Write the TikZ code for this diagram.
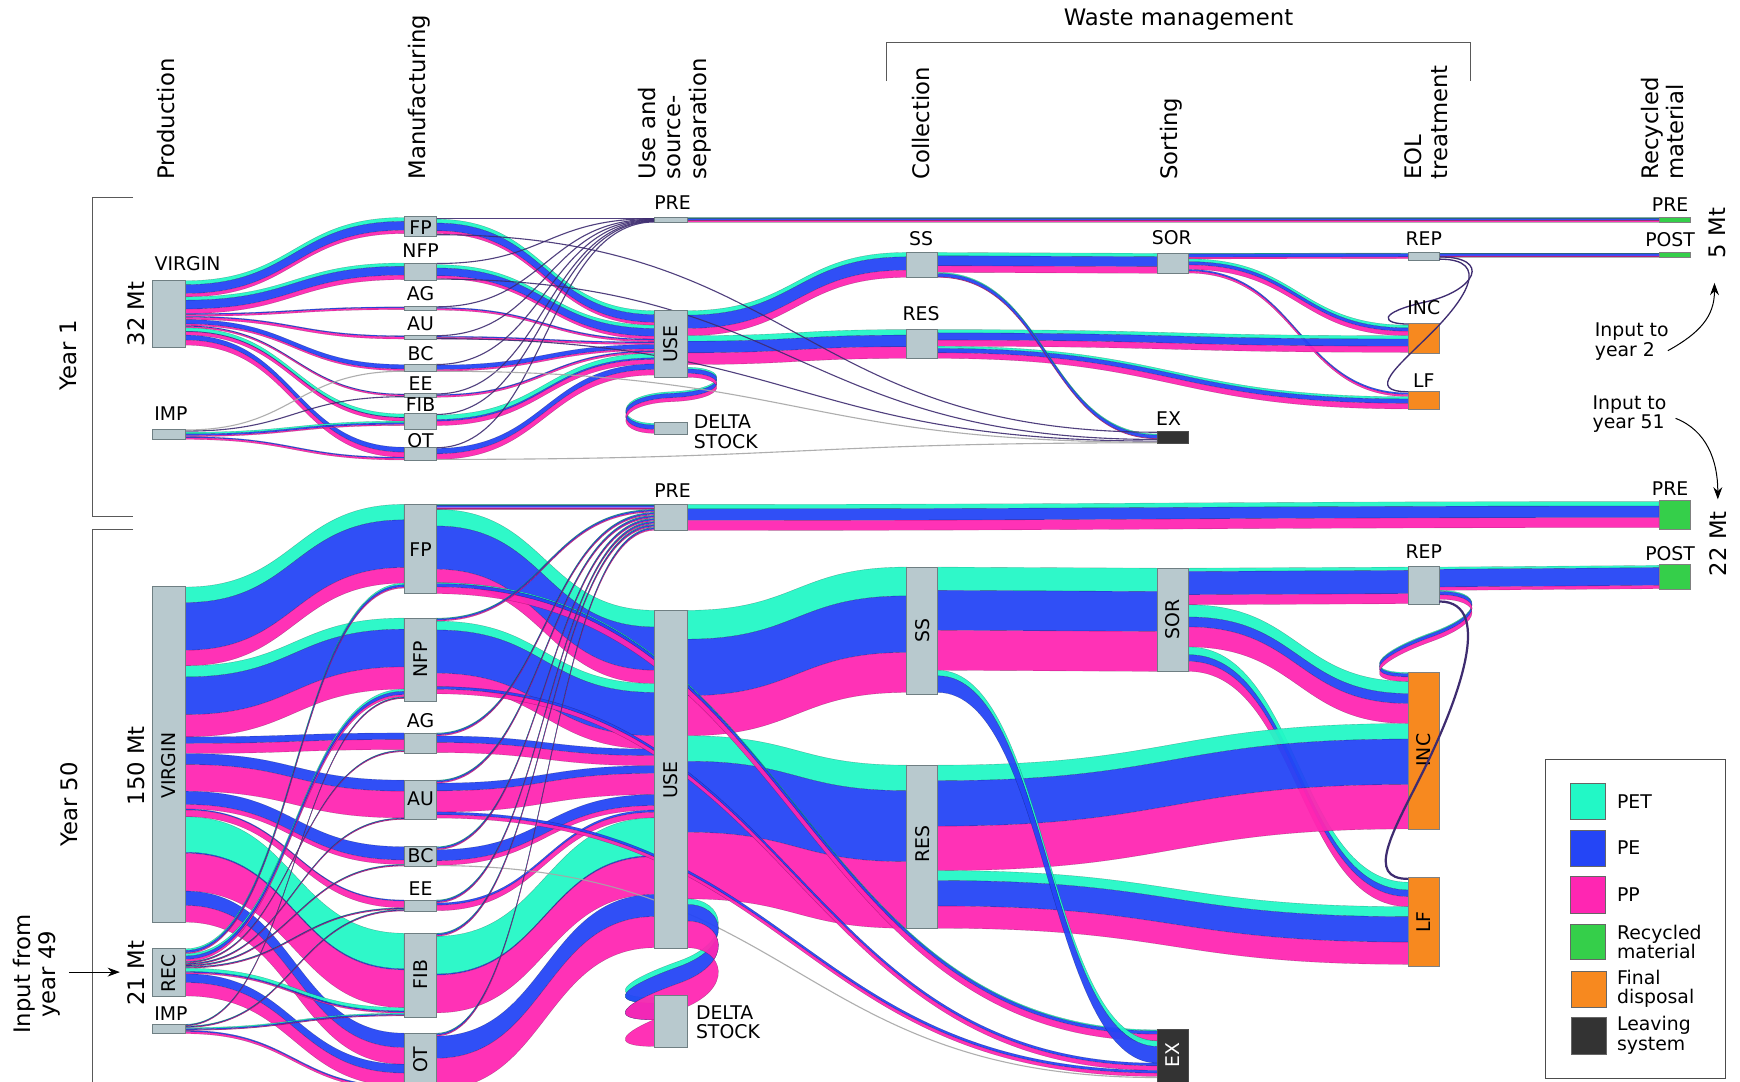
\documentclass[tikz,border=0pt]{standalone}
\usepackage{fontspec}
\setmainfont{DejaVu Sans}
\usetikzlibrary{arrows.meta,calc}
\definecolor{pet}{HTML}{22F8C6}
\definecolor{pe}{HTML}{2445F6}
\definecolor{pp}{HTML}{FF26B2}
\definecolor{boxg}{HTML}{B8C9CE}
\definecolor{boxe}{HTML}{6F7F83}
\definecolor{recg}{HTML}{35CF4A}
\definecolor{fino}{HTML}{F7891F}
\definecolor{leav}{HTML}{333333}
\definecolor{flc}{HTML}{3E2C70}
% one coloured band of a ribbon
\newcommand\flowband[6]{%
 \pgfmathsetmacro\fbXm{(#1+#3)/2}%
 \pgfmathsetmacro\fbYb{#2+#5}%
 \pgfmathsetmacro\fbYc{#4+#5}%
 \path[fill=#6,fill opacity=0.94,draw=black,draw opacity=0.3,line width=0.3pt] (#1,#2) .. controls (\fbXm,#2) and (\fbXm,#4) .. (#3,#4) -- (#3,\fbYc) .. controls (\fbXm,\fbYc) and (\fbXm,\fbYb) .. (#1,\fbYb) -- cycle;}
% ribbon PET/PE/PP: x1 y1 x2 y2 a b c
\newcommand\rib[7]{%
 \ifdim #5pt>0pt \flowband{#1}{#2}{#3}{#4}{#5}{pet}\fi
 \pgfmathsetmacro\rbYa{#2+#5}\pgfmathsetmacro\rbYb{#4+#5}%
 \ifdim #6pt>0pt \flowband{#1}{\rbYa}{#3}{\rbYb}{#6}{pe}\fi
 \pgfmathsetmacro\rbYc{#2+#5+#6}\pgfmathsetmacro\rbYd{#4+#5+#6}%
 \ifdim #7pt>0pt \flowband{#1}{\rbYc}{#3}{\rbYd}{#7}{pp}\fi}
% thin line flow
\newcommand\fline[5][flc]{\draw[#1,line width=1pt,opacity=0.9] (#2,#3) .. controls ({(#2+#4)/2},#3) and ({(#2+#4)/2},#5) .. (#4,#5);}
% S-shaped loop band with vertical offsets along a two-segment base curve
\newcommand\setS[7]{\def\pA{#1}\def\pB{#2}\def\pC{#3}\def\pD{#4}\def\pE{#5}\def\pF{#6}\def\pG{#7}}
\newcommand\sband[3]{\path[fill=#3,fill opacity=0.94,draw=black,draw opacity=0.3,line width=0.3pt] ($(\pA)+(0,#1)$) .. controls ($(\pB)+(0,#1)$) and ($(\pC)+(0,#1)$) .. ($(\pD)+(0,#1)$) .. controls ($(\pE)+(0,#1)$) and ($(\pF)+(0,#1)$) .. ($(\pG)+(0,#1)$) -- ($(\pG)+(0,#2)$) .. controls ($(\pF)+(0,#2)$) and ($(\pE)+(0,#2)$) .. ($(\pD)+(0,#2)$) .. controls ($(\pC)+(0,#2)$) and ($(\pB)+(0,#2)$) .. ($(\pA)+(0,#2)$) -- cycle;}
% box node: name x1 y1 x2 y2 style
\newcommand\bx[6]{%
 \pgfmathsetmacro\bxW{#4-#2}\pgfmathsetmacro\bxH{#5-#3}%
 \pgfmathsetmacro\bxX{(#2+#4)/2}\pgfmathsetmacro\bxY{(#3+#5)/2}%
 \node[#6,minimum width=\bxW pt,minimum height=\bxH pt] (#1) at (\bxX,\bxY) {};}
\begin{document}
\begin{tikzpicture}[x=1pt,y=-1pt,
 gbox/.style={rectangle,draw=boxe,fill=boxg,line width=0.7pt,inner sep=0pt,outer sep=0pt},
 gnode/.style={gbox,fill=recg,draw=black!50},
 onode/.style={gbox,fill=fino,draw=black!50},
 xnode/.style={gbox,fill=leav,draw=black!70},
 sw/.style={rectangle,draw=black!60,line width=0.8pt,inner sep=0pt},
 lbl/.style={font=\fontsize{17}{17.5}\selectfont,inner sep=0pt},
 rlbl/.style={lbl,rotate=90},
 hdr/.style={font=\fontsize{20.5}{23}\selectfont,rotate=90,anchor=west,align=left,inner sep=0pt},
 big/.style={font=\fontsize{20.5}{23}\selectfont,rotate=90,inner sep=0pt},
 arr/.style={-{Stealth[length=11pt,width=8pt]},line width=0.9pt},
 brk/.style={draw=black!65,line width=0.9pt}]
\useasboundingbox (0,0) rectangle (1568,975);
\clip (0,0) rectangle (1568,975);
\fill[white] (0,0) rectangle (1568,975);

% ===== headers =====
\node[hdr] (h-prod) at (150,162) {Production};
\node[hdr] (h-man) at (378,162) {Manufacturing};
\node[hdr] (h-use) at (608,162) {Use and\\source-\\separation};
\node[hdr] (h-col) at (830,162) {Collection};
\node[hdr] (h-sor) at (1055,162) {Sorting};
\node[hdr] (h-eol) at (1285,162) {EOL\\treatment};
\node[hdr] (h-rec) at (1498,162) {Recycled\\material};
\node[font=\fontsize{20.5}{23}\selectfont,inner sep=0pt] (h-wm) at (1062,18) {Waste management};
\draw[brk] (799,73) -- (799,38) -- (1325,38) -- (1325,73);
% year brackets
\draw[brk] (120,178) -- (83,178) -- (83,465) -- (120,465);
\draw[brk] (120,477) -- (83,477) -- (83,990);
\node[big] (y-1) at (62,320) {Year 1};
\node[big] (y-50) at (62,725) {Year 50};
\node[big] (m-32) at (123,283) {32 Mt};
\node[big] (m-150) at (123,690) {150 Mt};
\node[big] (m-21) at (123,877) {21 Mt};
\node[big] (m-5) at (1548,210) {5 Mt};
\node[big] (m-22) at (1548,490) {22 Mt};

% ===== YEAR 1 flows =====
\rib{167}{253}{364}{196}{3.5}{8}{3}
\rib{167}{267.5}{364}{237}{3}{8}{4}
\rib{167}{282.5}{364}{276.5}{0}{1}{1.5}
\rib{167}{285}{364}{302.5}{0}{1}{2}
\rib{167}{288}{364}{328.5}{0}{4}{1.5}
\rib{167}{293.5}{364}{355}{0}{0.8}{1.2}
\rib{167}{295.5}{364}{373}{3}{0.5}{3}
\rib{167}{302}{364}{403}{0}{4.5}{4.5}
\rib{167}{389.5}{364}{379.5}{1.5}{1.5}{1}
\rib{167}{393.5}{364}{412}{0}{1}{1.5}
\fline[gray!70]{167}{387.5}{364}{334.5}
\fline{167}{388.5}{364}{357.5}
\rib{393}{197.5}{590}{280}{3.5}{7}{2.5}
\rib{393}{238.5}{590}{293}{3}{7}{2.5}
\rib{393}{277}{590}{305.5}{0}{1}{1.5}
\rib{393}{303}{590}{308}{0}{1}{1.5}
\rib{393}{329}{590}{310.5}{0}{4}{1.5}
\rib{393}{355.5}{590}{316}{0}{1}{1.5}
\rib{393}{374}{590}{318.5}{4}{1.5}{4}
\rib{393}{404}{590}{328}{0}{5}{5}
\rib{619}{196}{1495}{196}{1}{1.5}{1.5}
\rib{619}{280}{817}{227.5}{4}{12}{6.5}
\rib{619}{302.5}{817}{297}{5}{10.5}{10.5}
\rib{845}{227.5}{1043}{228.3}{3}{9}{6}
\rib{1071}{228.3}{1269}{228}{0.5}{3}{1.5}
\rib{1071}{233.3}{1269}{293}{2.5}{3}{4}
\rib{1071}{242.8}{1269}{354}{0}{1.5}{1.8}
\rib{845}{297}{1269}{302.5}{3}{6.5}{5.5}
\rib{845}{312}{1269}{357.5}{2}{4}{5}
\rib{1297}{228}{1495}{228}{0.5}{2}{1}
\rib{845}{245.5}{1043}{391}{1}{3}{0.5}
% delta stock loop (year 1)
\setS{619,331}{657,331}{657,351}{605,353}{553,355}{553,381.5}{590,381.5}
\sband{0}{1.5}{pet}
\sband{1.5}{5.5}{pe}
\sband{5.5}{9}{pp}
% lines to PRE
\fline{393}{196.5}{590}{196.5}
\fline{393}{237.5}{590}{197}
\fline{393}{276.5}{590}{197.5}
\fline{393}{302.5}{590}{198}
\fline{393}{328.5}{590}{198.5}
\fline{393}{355}{590}{199}
\fline{393}{373.5}{590}{199.5}
\fline{393}{403.5}{590}{200}
% lines to EX
\fline{393}{211.5}{1043}{389.5}
\fline{393}{251.5}{1043}{396}
\fline{393}{305.2}{1043}{397.5}
\fline[gray!70]{393}{334.5}{1043}{398.5}
\fline[gray!70]{393}{414}{1043}{399}
% REP -> INC loop (year 1)
\draw[flc,line width=1.2pt] (1297,231.5) .. controls (1345,231.5) and (1330,262) .. (1285,272) .. controls (1240,282) and (1245,292) .. (1269,292);

% ===== YEAR 50 flows =====
\rib{167}{529}{364}{454.5}{14}{43}{14}
\rib{167}{600}{364}{557}{10}{34}{20}
\rib{167}{664}{364}{660.5}{0}{6}{9}
\rib{167}{679}{364}{703}{0}{10}{24}
\rib{167}{713}{364}{763}{0}{12}{4}
\rib{167}{729}{364}{811}{0}{1}{6}
\rib{167}{736}{364}{841}{32}{1}{34}
\rib{167}{803}{364}{931}{0}{13}{15}
\rib{167}{877.5}{364}{959}{0}{8}{12}
\rib{167}{928.5}{364}{979}{0}{1.2}{1.8}
\rib{393}{459}{590}{550}{15}{39}{12}
\rib{393}{559.7}{590}{616}{8}{39}{12}
\rib{393}{663.2}{590}{675}{0}{6}{9}
\rib{393}{705.7}{590}{690}{0}{7}{19}
\rib{393}{765.7}{590}{716}{0}{10}{4}
\rib{393}{813.7}{590}{730}{0}{2}{5}
\rib{393}{843.7}{590}{737}{34}{1}{34}
\rib{393}{933.7}{590}{806}{0}{20}{28}
\rib{619}{454.5}{1495}{452}{4}{10.5}{9}
\rib{619}{550}{817}{511}{26}{51}{36}
\rib{619}{663}{817}{689.5}{23}{64}{60}
\rib{845}{511}{1043}{512}{21}{36}{36}
\rib{1071}{512}{1269}{511}{3}{21}{9}
\rib{1071}{545}{1269}{614}{11}{9}{18}
\rib{1071}{583}{1269}{795}{7}{6}{9}
\rib{845}{689.5}{1269}{652}{14}{41}{40}
\rib{845}{784.5}{1269}{817}{9}{23}{20}
\rib{1297}{511}{1495}{509.5}{2}{16}{3}
% to EX
\rib{393}{525}{1043}{928}{1}{3}{6}
\rib{845}{604}{1043}{938}{5}{15}{0}
\rib{393}{618.7}{1043}{958}{0}{2.5}{4}
\rib{393}{731.7}{1043}{964.5}{0}{2.5}{3}
\fline[gray!70]{393}{780}{1043}{971}
% thin flows from REC and IMP
\rib{167}{855}{364}{525.5}{1.5}{2}{1}
\rib{167}{859.5}{364}{621}{2}{3}{2}
\rib{167}{866.5}{364}{676}{0.3}{0.6}{0.6}
\rib{167}{868}{364}{737}{0.3}{0.6}{0.6}
\rib{167}{869.5}{364}{779}{0.3}{0.6}{0.6}
\rib{167}{871}{364}{818}{0.3}{0.6}{0.6}
\rib{167}{872.5}{364}{908}{3}{1}{1}
\rib{167}{923}{364}{628}{0.4}{0.6}{0.5}
\rib{167}{924.5}{364}{819.5}{0.4}{0.6}{0.5}
\rib{167}{926}{364}{913}{1}{1}{0.5}
% manufacturing to PRE
\rib{393}{454.5}{590}{454.5}{1}{2}{1.5}
\rib{393}{557}{590}{459}{0.6}{1.2}{0.9}
\rib{393}{660.5}{590}{461.7}{0.6}{1.2}{0.9}
\rib{393}{703}{590}{464.4}{0.6}{1.2}{0.9}
\rib{393}{763}{590}{467.1}{0.6}{1.2}{0.9}
\rib{393}{811}{590}{469.8}{0.6}{1.2}{0.9}
\rib{393}{841}{590}{472.5}{0.6}{1.2}{0.9}
\rib{393}{931}{590}{475.2}{0.6}{1.2}{0.9}
% delta stock loop (year 50)
\setS{619,810}{652,810}{664,847.5}{612,866}{560,884.5}{545,899}{590,899}
\sband{0}{5}{pet}
\sband{5}{20}{pe}
\sband{20}{44}{pp}
% REP -> INC loop (year 50)
\setS{1297,532}{1335,532}{1340,552}{1290,570}{1240,588}{1225,606}{1269,606}
\sband{0}{1}{pet}
\sband{1}{4}{pe}
\sband{4}{8}{pp}

% ===== YEAR 1 boxes =====
\bx{a-vir}{137}{253}{167}{313}{gbox}
\bx{a-imp}{137}{387}{167}{396}{gbox}
\bx{a-fp}{364}{195}{393}{213}{gbox}
\bx{a-nfp}{364}{237}{393}{252.5}{gbox}
\bx{a-ag}{364}{276}{393}{280}{gbox}
\bx{a-au}{364}{302}{393}{306}{gbox}
\bx{a-bc}{364}{328}{393}{335}{gbox}
\bx{a-ee}{364}{354.5}{393}{358.5}{gbox}
\bx{a-fib}{364}{372.5}{393}{386.5}{gbox}
\bx{a-ot}{364}{403}{393}{414.5}{gbox}
\bx{a-pre}{590}{195.5}{619}{200.5}{gbox}
\bx{a-use}{590}{280}{619}{340}{gbox}
\bx{a-del}{590}{381}{619}{391}{gbox}
\bx{a-ss}{817}{227.5}{845}{250}{gbox}
\bx{a-res}{817}{297}{845}{323}{gbox}
\bx{a-sor}{1043}{228.3}{1071}{246.3}{gbox}
\bx{a-ex}{1043}{389}{1071}{400}{xnode}
\bx{a-rep}{1269}{227.5}{1297}{234.5}{gbox}
\bx{a-inc}{1269}{291}{1297}{318}{onode}
\bx{a-lf}{1269}{352.5}{1297}{369}{onode}
\bx{a-preg}{1495}{195.5}{1523}{200.5}{gnode}
\bx{a-post}{1495}{227.5}{1523}{232}{gnode}
% labels year 1
\node[lbl] (la-vir) at (169,238) {VIRGIN};
\node[lbl] (la-imp) at (154,373) {IMP};
\node[lbl] (la-fp) at (379,205) {FP};
\node[lbl] (la-nfp) at (379,226) {NFP};
\node[lbl] (la-ag) at (379,265) {AG};
\node[lbl] (la-au) at (379,292) {AU};
\node[lbl] (la-bc) at (379,319) {BC};
\node[lbl] (la-ee) at (379,346) {EE};
\node[lbl] (la-fib) at (379,365) {FIB};
\node[lbl] (la-ot) at (379,397) {OT};
\node[lbl] (la-pre) at (606,183) {PRE};
\node[rlbl] (la-use) at (604,310) {USE};
\node[lbl,anchor=west,align=left] (la-del) at (625,389) {DELTA\\STOCK};
\node[lbl] (la-ss) at (830,215) {SS};
\node[lbl] (la-res) at (830,283) {RES};
\node[lbl] (la-sor) at (1056,214) {SOR};
\node[lbl] (la-ex) at (1053,377) {EX};
\node[lbl] (la-rep) at (1283,215) {REP};
\node[lbl] (la-inc) at (1283,277) {INC};
\node[lbl] (la-lf) at (1283,343) {LF};
\node[lbl] (la-preg) at (1505,184) {PRE};
\node[lbl] (la-post) at (1505,216) {POST};
% REP -> LF (year 1), drawn over INC
\draw[flc,line width=1.2pt] (a-rep.east |- 0,233.5) .. controls (1345,233.5) and (1320,270) .. (1290,300) .. controls (1260,330) and (1230,353) .. (a-lf.west |- 0,353);

% ===== YEAR 50 boxes =====
\bx{b-vir}{137}{528}{167}{831}{gbox}
\bx{b-rec}{137}{855}{167}{898}{gbox}
\bx{b-imp}{137}{923}{167}{931.5}{gbox}
\bx{b-fp}{364}{454.5}{393}{535}{gbox}
\bx{b-nfp}{364}{557}{393}{632}{gbox}
\bx{b-ag}{364}{660.5}{393}{678.5}{gbox}
\bx{b-au}{364}{703}{393}{738}{gbox}
\bx{b-bc}{364}{763}{393}{781}{gbox}
\bx{b-ee}{364}{811}{393}{821}{gbox}
\bx{b-fib}{364}{841}{393}{917}{gbox}
\bx{b-ot}{364}{931}{393}{990}{gbox}
\bx{b-pre}{590}{454.5}{619}{478}{gbox}
\bx{b-use}{590}{550}{619}{855}{gbox}
\bx{b-del}{590}{897}{619}{944}{gbox}
\bx{b-ss}{817}{511}{845}{626}{gbox}
\bx{b-res}{817}{689.5}{845}{837}{gbox}
\bx{b-sor}{1043}{512}{1071}{605}{gbox}
\bx{b-ex}{1043}{928}{1071}{990}{xnode}
\bx{b-rep}{1269}{510.5}{1297}{544.5}{gbox}
\bx{b-inc}{1269}{606}{1297}{747}{onode}
\bx{b-lf}{1269}{791}{1297}{871}{onode}
\bx{b-preg}{1495}{451}{1523}{477}{gnode}
\bx{b-post}{1495}{509}{1523}{531}{gnode}
% labels year 50
\node[rlbl] (lb-vir) at (152,690) {VIRGIN};
\node[rlbl] (lb-rec) at (152,877) {REC};
\node[lbl] (lb-imp) at (154,913) {IMP};
\node[lbl] (lb-fp) at (379,495) {FP};
\node[rlbl] (lb-nfp) at (379,594) {NFP};
\node[lbl] (lb-ag) at (379,649) {AG};
\node[lbl] (lb-au) at (379,720) {AU};
\node[lbl] (lb-bc) at (379,771) {BC};
\node[lbl] (lb-ee) at (379,801) {EE};
\node[rlbl] (lb-fib) at (379,878) {FIB};
\node[rlbl] (lb-ot) at (379,955) {OT};
\node[lbl] (lb-pre) at (606,442) {PRE};
\node[rlbl] (lb-use) at (604,703) {USE};
\node[lbl,anchor=west,align=left] (lb-del) at (627,921) {DELTA\\STOCK};
\node[rlbl] (lb-ss) at (831,568) {SS};
\node[rlbl] (lb-res) at (831,761) {RES};
\node[rlbl] (lb-sor) at (1057,558) {SOR};
\node[rlbl,text=white] (lb-ex) at (1057,951) {EX};
\node[lbl] (lb-rep) at (1283,497) {REP};
\node[rlbl] (lb-inc) at (1283,676) {INC};
\node[rlbl] (lb-lf) at (1283,831) {LF};
\node[lbl] (lb-preg) at (1505,440) {PRE};
\node[lbl] (lb-post) at (1505,499) {POST};
% REP -> LF (year 50), drawn over INC
\draw[flc,line width=2pt] (b-rep.east |- 0,542) .. controls (1350,542) and (1310,640) .. (1280,700) .. controls (1255,750) and (1230,792) .. (b-lf.west |- 0,792);

% ===== input arrows =====
\node[font=\fontsize{20.5}{23}\selectfont,rotate=90,align=center,inner sep=0pt] (t-in49) at (33,878) {Input from\\year 49};
\coordinate (in49s) at (62,876);
\coordinate (in49e) at (108,876);
\draw[arr] (in49s) -- (in49e);
\node[lbl,anchor=north west,align=left] (t-in2) at (1437,291) {Input to\\year 2};
\coordinate (in2s) at (1503,316);
\coordinate (in2e) at (1545,255);
\draw[arr] (in2s) .. controls (1532,300) and (1545,285) .. (in2e);
\node[lbl,anchor=north west,align=left] (t-in51) at (1435,356) {Input to\\year 51};
\coordinate (in51s) at (1510,377);
\coordinate (in51e) at (1548,450);
\draw[arr] (in51s) .. controls (1538,388) and (1548,415) .. (in51e);

% ===== legend =====
\bx{legend}{1393}{684}{1555}{972}{rectangle,draw=black!70,line width=0.8pt,inner sep=0pt}
\bx{lg-pet}{1415}{706}{1447}{738}{sw,fill=pet}
\bx{lg-pe}{1415}{748}{1447}{781}{sw,fill=pe}
\bx{lg-pp}{1415}{790}{1447}{823}{sw,fill=pp}
\bx{lg-rec}{1415}{833}{1447}{865}{sw,fill=recg}
\bx{lg-fin}{1416}{875}{1448}{908}{sw,fill=fino}
\bx{lg-lea}{1416}{917}{1448}{950}{sw,fill=leav}
\node[lbl,anchor=west] (lt-pet) at (1457,722) {PET};
\node[lbl,anchor=west] (lt-pe) at (1457,764) {PE};
\node[lbl,anchor=west] (lt-pp) at (1457,806) {PP};
\node[lbl,anchor=west,align=left] (lt-rec) at (1457,849) {Recycled\\material};
\node[lbl,anchor=west,align=left] (lt-fin) at (1457,891) {Final\\disposal};
\node[lbl,anchor=west,align=left] (lt-lea) at (1457,933) {Leaving\\system};
\end{tikzpicture}
\end{document}
